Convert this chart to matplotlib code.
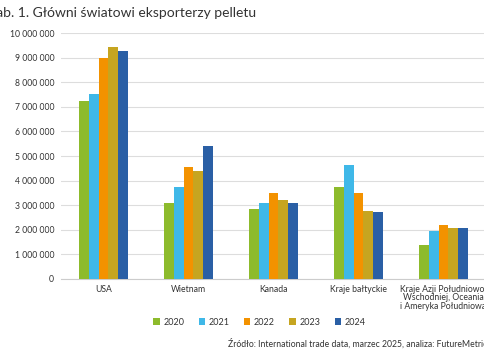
import numpy as np
import matplotlib
matplotlib.use("Agg")
import matplotlib.pyplot as plt
from matplotlib.ticker import FuncFormatter

# Dane: eksport pelletu [t]
kategorie = ["USA", "Wietnam", "Kanada", "Kraje bałtyckie",
             "Kraje Azji Południowo-\nWschodniej, Oceania\ni Ameryka Południowa"]
lata = ["2020", "2021", "2022", "2023", "2024"]
v2020 = [7250000, 3100000, 2830000, 3750000, 1380000]
v2021 = [7520000, 3750000, 3100000, 4630000, 1960000]
v2022 = [8980000, 4570000, 3480000, 3510000, 2210000]
v2023 = [9440000, 4380000, 3210000, 2780000, 2060000]
v2024 = [9260000, 5410000, 3100000, 2710000, 2060000]
kolory = ["#8dbb2c", "#3fb8e8", "#f39200", "#c6a520", "#2a5fa5"]

plt.rcParams['font.family'] = ['Lato', 'DejaVu Sans']

fig = plt.figure(figsize=(4.85, 3.6), dpi=100)
ax = fig.add_axes([0.126, 0.225, 0.876, 0.683])

x = np.arange(len(kategorie))
szer = 0.115
serie = [v2020, v2021, v2022, v2023, v2024]
for i, (vals, rok, kol) in enumerate(zip(serie, lata, kolory)):
    ax.bar(x + (i - 2) * szer, vals, width=szer, color=kol, label=rok, zorder=3)

ax.set_xlim(-0.5, len(kategorie) - 0.5)
ax.set_ylim(0, 10000000)
ax.set_yticks(np.arange(0, 10000001, 1000000))
ax.yaxis.set_major_formatter(FuncFormatter(lambda v, p: f"{int(v):,}".replace(",", " ")))
ax.set_xticks(x)
ax.set_xticklabels(kategorie, fontsize=6.2, color="#333333", linespacing=0.95)
ax.tick_params(axis="y", labelsize=6.2, colors="#333333", length=0, pad=5)
ax.tick_params(axis="x", length=0, pad=4)
ax.grid(axis="y", color="#dddddd", linewidth=0.8, zorder=0)
for s in ["top", "right", "left"]:
    ax.spines[s].set_visible(False)
ax.spines["bottom"].set_color("#cccccc")

fig.legend(loc="center", bbox_to_anchor=(0.535, 0.105), ncol=5, frameon=False,
           fontsize=6.5, handlelength=0.7, handleheight=0.7, columnspacing=1.6,
           handletextpad=0.4, labelcolor="#333333")

fig.text(-0.025, 0.965, "Tab. 1. Główni światowi eksporterzy pelletu",
         fontsize=10, color="#333333", va="center", ha="left")
fig.text(1.012, 0.047, "Źródło: International trade data, marzec 2025, analiza: FutureMetrics",
         fontsize=6.2, color="#333333", va="center", ha="right")

fig.savefig("out.png", dpi=100)
